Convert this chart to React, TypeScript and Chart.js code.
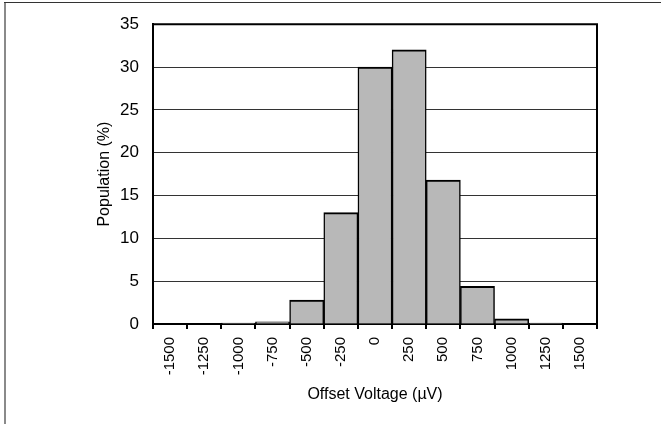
import React, { useEffect, useRef } from "react";
import { Chart, registerables } from "chart.js";

Chart.register(...registerables);

const categories: string[] = [
  "-1500", "-1250", "-1000", "-750", "-500", "-250", "0",
  "250", "500", "750", "1000", "1250", "1500",
];
const population: number[] = [0, 0, 0.1, 0.25, 2.8, 13, 30, 32, 16.8, 4.4, 0.6, 0.1, 0];
const yTickMin = 0;
const yTickMax = 35;
const yTickStep = 5;
const yTitle = "Population (%)";
const xTitle = "Offset Voltage (µV)";

const FONT = "'Liberation Sans', Arial, Helvetica, sans-serif";

const framePlugin = {
  id: "framePlugin",
  beforeDraw(chart: any) {
    const ctx = chart.ctx;
    ctx.save();
    ctx.fillStyle = "#ffffff";
    ctx.fillRect(0, 0, chart.width, chart.height);
    ctx.fillStyle = "#8a8a8a";
    ctx.fillRect(4, 2, 2, chart.height - 2);
    ctx.fillStyle = "#333333";
    ctx.fillRect(4, 2, chart.width - 4, 1);
    ctx.restore();
  },
  afterDraw(chart: any) {
    const { ctx, chartArea } = chart;
    ctx.save();
    ctx.strokeStyle = "#000";
    ctx.lineWidth = 2;
    ctx.beginPath();
    ctx.moveTo(chartArea.left, chartArea.top);
    ctx.lineTo(chartArea.right, chartArea.top);
    ctx.lineTo(chartArea.right, chartArea.bottom);
    ctx.stroke();
    ctx.restore();
  },
};

export default function App() {
  const ref = useRef<HTMLCanvasElement | null>(null);
  useEffect(() => {
    if (!ref.current) return;
    const chart = new Chart(ref.current, {
      type: "bar",
      data: {
        labels: categories,
        datasets: [
          {
            data: population,
            backgroundColor: "#b8b8b8",
            borderColor: "#000",
            borderWidth: { top: 2, left: 1.5, right: 1.5, bottom: 0 },
            borderSkipped: false,
            barPercentage: 1,
            categoryPercentage: 1,
          },
        ],
      },
      options: {
        animation: false,
        responsive: true,
        maintainAspectRatio: false,
        layout: { padding: { left: 95, right: 64, top: 21, bottom: 20 } },
        plugins: { legend: { display: false }, tooltip: { enabled: false } },
        scales: {
          x: {
            offset: true,
            grid: {
              offset: true,
              drawOnChartArea: false,
              drawTicks: true,
              tickLength: 5,
              color: "#000",
              lineWidth: 2,
            },
            border: { display: true, color: "#000", width: 2 },
            ticks: {
              autoSkip: false,
              minRotation: 90,
              maxRotation: 90,
              padding: 8,
              color: "#000",
              font: { family: FONT, size: 15 },
            },
            title: {
              display: true,
              text: xTitle,
              color: "#000",
              padding: 0,
              font: { family: FONT, size: 16 },
            },
            afterFit: (s: any) => {
              s.height = 80;
            },
          },
          y: {
            min: yTickMin,
            max: yTickMax,
            ticks: {
              stepSize: yTickStep,
              padding: 14,
              color: "#000",
              font: { family: FONT, size: 17 },
            },
            grid: {
              drawTicks: false,
              color: "#333",
              lineWidth: 1,
            },
            border: { display: true, color: "#000", width: 2 },
            title: {
              display: true,
              text: yTitle,
              color: "#000",
              padding: 0,
              font: { family: FONT, size: 16 },
            },
            afterFit: (s: any) => {
              s.width = 58;
            },
          },
        },
      },
      plugins: [framePlugin],
    });
    return () => chart.destroy();
  }, []);
  return (
    <div style={{ position: "absolute", left: 0, top: 0, width: 661, height: 424 }}>
      <canvas ref={ref} />
    </div>
  );
}
